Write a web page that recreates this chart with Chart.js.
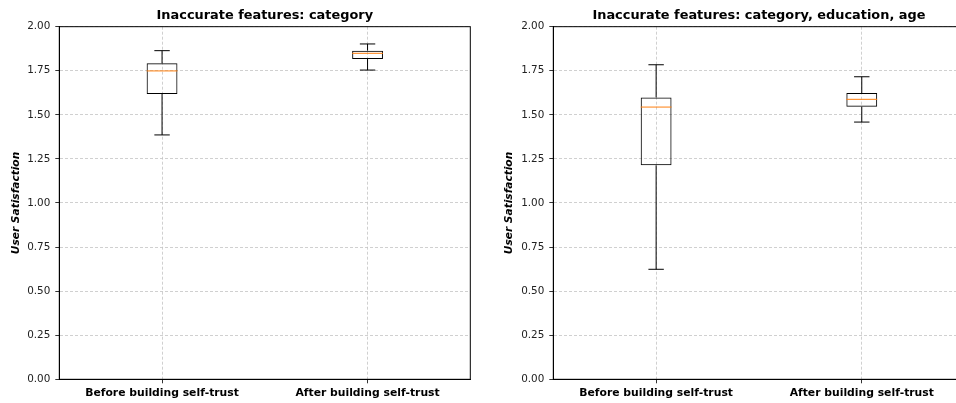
<!DOCTYPE html>
<html><head><meta charset="utf-8">
<script src="https://cdn.jsdelivr.net/npm/chart.js@4"></script>
<style>
html,body{margin:0;padding:0;background:#fff;overflow:hidden;width:956px;height:403px;}
#wrap{position:absolute;left:0;top:0;width:956px;height:403px;overflow:hidden;}
#c1{position:absolute;left:0;top:0;}
#c2{position:absolute;left:478px;top:0;}
</style></head><body>
<div id="wrap">
<canvas id="c1" width="478" height="403"></canvas>
<canvas id="c2" width="540" height="403"></canvas>
</div>
<script>
// ---- data ----
const categories = ['Before building self-trust', 'After building self-trust'];
const yTicks = [0, 0.25, 0.5, 0.75, 1.0, 1.25, 1.5, 1.75, 2.0];
const titles = ['Inaccurate features: category', 'Inaccurate features: category, education, age'];
// chart 1
const c1WhiskerLow = [1.386, 1.754];
const c1Q1 = [1.618, 1.817];
const c1Median = [1.749, 1.849];
const c1Q3 = [1.792, 1.864];
const c1WhiskerHigh = [1.864, 1.902];
// chart 2
const c2WhiskerLow = [0.624, 1.459];
const c2Q1 = [1.214, 1.546];
const c2Median = [1.544, 1.588];
const c2Q3 = [1.599, 1.624];
const c2WhiskerHigh = [1.784, 1.716];

const FONT = "'DejaVu Sans', sans-serif";

const boxPlugin = {
  id: 'boxparts',
  afterDatasetsDraw(chart) {
    const ctx = chart.ctx;
    const xs = chart.scales.x, ys = chart.scales.y;
    const st = chart.options.plugins.boxparts;
    const meta = chart.getDatasetMeta(0);
    ctx.save();
    ctx.lineWidth = 1;
    categories.forEach((c, i) => {
      const bar = meta.data[i];
      const x = xs.getPixelForValue(i);
      const half = bar.width / 2;
      const capHalf = half / 2;
      const yLo = ys.getPixelForValue(st.lo[i]);
      const yQ1 = ys.getPixelForValue(st.q1[i]);
      const yQ3 = ys.getPixelForValue(st.q3[i]);
      const yHi = ys.getPixelForValue(st.hi[i]);
      const yMed = ys.getPixelForValue(st.med[i]);
      ctx.strokeStyle = '#000';
      ctx.beginPath();
      ctx.moveTo(x, yLo); ctx.lineTo(x, yQ1);
      ctx.moveTo(x, yQ3); ctx.lineTo(x, yHi);
      ctx.moveTo(x - capHalf, yLo); ctx.lineTo(x + capHalf, yLo);
      ctx.moveTo(x - capHalf, yHi); ctx.lineTo(x + capHalf, yHi);
      ctx.stroke();
      ctx.strokeStyle = '#ff7f0e';
      ctx.beginPath();
      ctx.moveTo(x - half, yMed); ctx.lineTo(x + half, yMed);
      ctx.stroke();
    });
    // frame
    const a = chart.chartArea;
    ctx.strokeStyle = '#000';
    ctx.lineWidth = 1;
    ctx.strokeRect(a.left, a.top, a.right - a.left, a.bottom - a.top);
    ctx.restore();
  }
};

function makeChart(id, title, lo, q1, med, q3, hi, yScaleWidth, rightPad, yTitlePad) {
  return new Chart(document.getElementById(id), {
    type: 'bar',
    data: {
      labels: categories,
      datasets: [{
        data: categories.map((c, i) => [q1[i], q3[i]]),
        backgroundColor: 'rgba(255,255,255,0)',
        borderColor: '#000',
        borderWidth: 1,
        borderSkipped: false,
        categoryPercentage: 1,
        barPercentage: 0.15
      }]
    },
    options: {
      responsive: false,
      animation: false,
      layout: { padding: { left: 0, right: rightPad, top: 0, bottom: 0 } },
      plugins: {
        legend: { display: false },
        tooltip: { enabled: false },
        title: {
          display: true, text: title, fullSize: false,
          color: '#000', font: { family: FONT, size: 12.9, weight: 'bold' },
          padding: { top: 7.8, bottom: 3.4 }
        },
        boxparts: { lo, q1, med, q3, hi }
      },
      scales: {
        x: {
          type: 'category',
          offset: true,
          grid: { display: true, offset: false, color: '#c4c4c4', lineWidth: 0.8, drawTicks: true, tickLength: 4, tickColor: '#000', tickBorderDash: [] },
          border: { display: true, color: '#000', dash: [3, 2] },
          ticks: { color: '#000', padding: 3, font: { family: FONT, size: 10.8, weight: 'bold' }, maxRotation: 0, autoSkip: false },
          afterFit(s) { s.height = 23.7; }
        },
        y: {
          min: 0, max: 2,
          afterBuildTicks(s) { s.ticks = yTicks.map(v => ({ value: v })); },
          grid: { color: '#c4c4c4', lineWidth: 0.8, drawTicks: true, tickLength: 4, tickColor: '#000', tickBorderDash: [] },
          border: { display: true, color: '#000', dash: [3, 2] },
          ticks: { color: '#222', padding: 5, font: { family: FONT, size: 10.4 }, callback: v => Number(v).toFixed(2) },
          title: { display: true, text: 'User Satisfaction', color: '#000', font: { family: FONT, size: 10.6, weight: 'bold', style: 'italic' }, padding: { top: yTitlePad, bottom: 0 } },
          afterFit(s) { s.width = yScaleWidth; }
        }
      }
    },
    plugins: [boxPlugin]
  });
}

makeChart('c1', titles[0], c1WhiskerLow, c1Q1, c1Median, c1Q3, c1WhiskerHigh, 59.3, 7.7, 9.6);
makeChart('c2', titles[1], c2WhiskerLow, c2Q1, c2Median, c2Q3, c2WhiskerHigh, 75.3, 53.4, 24.9);
</script></body></html>
